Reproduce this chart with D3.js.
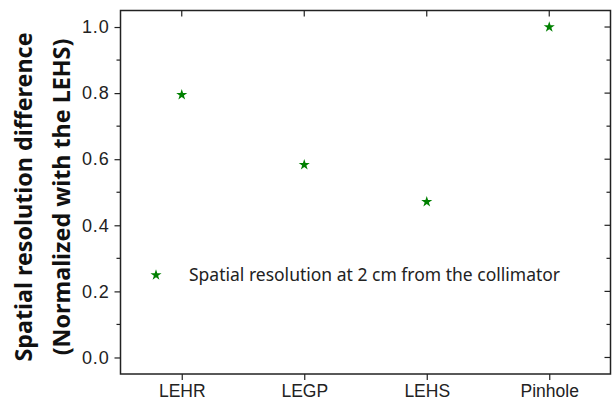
<!DOCTYPE html>
<html>
<head>
<meta charset="utf-8">
<script src="https://cdn.jsdelivr.net/npm/d3@7"></script>
<style>
  body { margin: 0; background: #fff; }
  svg { display: block; font-family: "Noto Sans", "Open Sans", sans-serif; }
</style>
</head>
<body>
<svg id="chart" width="614" height="404"></svg>
<script>
// data
const categories = ['LEHR', 'LEGP', 'LEHS', 'Pinhole'];
const resolution = [0.795, 0.583, 0.471, 1.0];
const yTicks = [0.0, 0.2, 0.4, 0.6, 0.8, 1.0];
const legendLabel = 'Spatial resolution at 2 cm from the collimator';
const yTitle = ['Spatial resolution difference', '(Normalized with the LEHS)'];

const svg = d3.select('#chart'),
    margin = {top: 10.5, right: 3.5, bottom: 30, left: 120.5},
    width = 614 - margin.left - margin.right,
    height = 404 - margin.top - margin.bottom,
    g = svg.append('g').attr('transform', `translate(${margin.left},${margin.top})`);

const x = d3.scaleLinear().domain([0.5, 4.5]).range([0, width]);
const y = d3.scaleLinear().domain([-0.05, 1.05]).range([height, 0]);
const minor = d3.range(-0.0, 1.05, 0.1).map(v => +v.toFixed(1));

const axisColor = '#222';

// frame
g.append('rect')
  .attr('width', width).attr('height', height)
  .attr('fill', 'none').attr('stroke', axisColor).attr('stroke-width', 1.5);

// left axis
const left = g.append('g')
  .call(d3.axisLeft(y).tickValues(yTicks).tickFormat(d3.format('.1f')).tickSize(6).tickPadding(5));
left.select('.domain').remove();
left.selectAll('line').attr('stroke', axisColor).attr('stroke-width', 1.2);
left.selectAll('text').style('font-size', '18px').style('letter-spacing', '0.8px').attr('fill', '#222');
g.append('g').selectAll('line').data(minor.filter(v => !yTicks.includes(v))).enter()
  .append('line')
  .attr('x1', 0).attr('x2', -4)
  .attr('y1', d => y(d)).attr('y2', d => y(d))
  .attr('stroke', axisColor).attr('stroke-width', 1.2);

// right axis (mirror, inward)
g.append('g').selectAll('line').data(minor).enter()
  .append('line')
  .attr('x1', width).attr('x2', d => width - (yTicks.includes(d) ? 6 : 4))
  .attr('y1', d => y(d)).attr('y2', d => y(d))
  .attr('stroke', axisColor).attr('stroke-width', 1.2);

// bottom axis
const bottom = g.append('g')
  .attr('transform', `translate(0,${height})`)
  .call(d3.axisBottom(x).tickValues([1, 2, 3, 4]).tickFormat((d, i) => categories[i]).tickSize(6).tickPadding(5));
bottom.select('.domain').remove();
bottom.selectAll('line').attr('stroke', axisColor).attr('stroke-width', 1.2);
bottom.selectAll('text').style('font-size', '17.5px').attr('fill', '#222');

// top axis (mirror, inward)
g.append('g').selectAll('line').data([1, 2, 3, 4]).enter()
  .append('line')
  .attr('x1', d => x(d)).attr('x2', d => x(d))
  .attr('y1', 0).attr('y2', 6)
  .attr('stroke', axisColor).attr('stroke-width', 1.2);

// points
const star = d3.symbol().type(d3.symbolStar).size(38);
g.selectAll('.pt')
  .data(resolution)
  .enter()
  .append('path')
  .attr('class', 'pt')
  .attr('transform', (d, i) => `translate(${x(i + 1)},${y(d)})`)
  .attr('d', star)
  .attr('fill', '#008000');

// legend
const lg = g.append('g').attr('transform', `translate(${156 - margin.left},${275 - margin.top})`);
lg.append('path').attr('d', star).attr('fill', '#008000');
lg.append('text')
  .attr('x', 33).attr('y', 0).attr('dy', '0.35em')
  .style('font-size', '17.5px').attr('fill', '#222')
  .text(legendLabel);

// y title
const yt = svg.append('text')
  .attr('transform', 'translate(0,197) rotate(-90)')
  .attr('text-anchor', 'middle')
  .style('font-size', '23.3px').style('font-weight', 'bold').attr('fill', '#111');
yt.append('tspan').attr('x', 0).attr('y', 32).text(yTitle[0]);
yt.append('tspan').attr('x', 0).attr('y', 70).text(yTitle[1]);
</script>
</body>
</html>
